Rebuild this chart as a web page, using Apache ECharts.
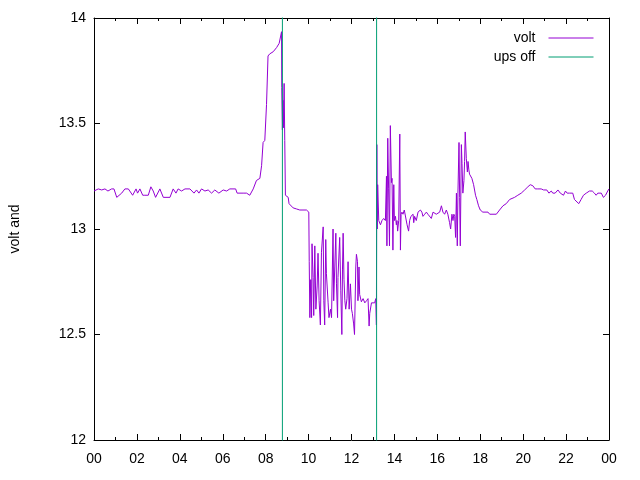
<!DOCTYPE html>
<html lang="en">
<head>
  <meta charset="UTF-8">
  <title>volt</title>
  <script src="https://cdn.jsdelivr.net/npm/echarts@6/dist/echarts.min.js"></script>
  <style type="text/css">
    html, body { margin: 0; padding: 0; background: #fff; }
    #main { width: 640px; height: 480px; }
  </style>
</head>
<body>
  <div id="main"></div>
  <script type="text/javascript">
    // hour of day for each volt sample
    var voltTimes = [
      0.00, 0.05, 0.20, 0.36, 0.51, 0.65, 0.82, 0.93, 1.06, 1.13, 1.29, 1.44, 1.60, 1.80, 1.96, 2.03,
      2.14, 2.27, 2.37, 2.53, 2.65, 2.76, 2.87, 3.07, 3.23, 3.54, 3.69, 3.82, 3.92, 4.08, 4.24, 4.47,
      4.66, 4.78, 4.89, 5.01, 5.17, 5.32, 5.48, 5.63, 5.82, 6.02, 6.18, 6.33, 6.60, 6.67, 6.95, 7.11,
      7.26, 7.42, 7.57, 7.73, 7.81, 7.88, 7.96, 8.04, 8.11, 8.19, 8.35, 8.51, 8.63, 8.69, 8.74, 8.75,
      8.78, 8.81, 8.83, 8.86, 8.89, 8.92, 9.05, 9.09, 9.28, 9.44, 9.59, 9.90, 10.01, 10.03, 10.06, 10.10,
      10.14, 10.16, 10.21, 10.24, 10.29, 10.34, 10.40, 10.44, 10.49, 10.55, 10.60, 10.68, 10.71, 10.75, 10.80, 10.83,
      10.91, 10.95, 11.02, 11.07, 11.14, 11.17, 11.22, 11.27, 11.30, 11.35, 11.37, 11.45, 11.50, 11.55, 11.58, 11.61,
      11.65, 11.69, 11.73, 11.79, 11.84, 11.89, 11.95, 12.00, 12.04, 12.10, 12.14, 12.20, 12.23, 12.28, 12.30, 12.35,
      12.38, 12.46, 12.54, 12.62, 12.70, 12.77, 12.82, 12.85, 12.93, 13.00, 13.08, 13.13, 13.16, 13.18, 13.20, 13.22,
      13.27, 13.35, 13.42, 13.50, 13.58, 13.63, 13.65, 13.69, 13.73, 13.77, 13.81, 13.86, 13.89, 13.93, 13.97, 14.00,
      14.05, 14.09, 14.12, 14.15, 14.20, 14.25, 14.28, 14.31, 14.35, 14.40, 14.46, 14.54, 14.59, 14.66, 14.71, 14.77,
      14.87, 14.90, 14.94, 15.02, 15.10, 15.21, 15.28, 15.33, 15.41, 15.49, 15.56, 15.64, 15.72, 15.80, 15.88, 15.95,
      16.03, 16.11, 16.19, 16.26, 16.34, 16.42, 16.49, 16.57, 16.62, 16.68, 16.73, 16.77, 16.81, 16.85, 16.89, 16.93,
      16.96, 17.01, 17.04, 17.07, 17.12, 17.15, 17.19, 17.24, 17.27, 17.30, 17.35, 17.40, 17.43, 17.47, 17.50, 17.61,
      17.69, 17.78, 17.84, 17.92, 18.00, 18.12, 18.36, 18.44, 18.75, 18.90, 19.06, 19.21, 19.37, 19.60, 19.75, 19.91,
      20.07, 20.22, 20.33, 20.45, 20.56, 20.68, 20.76, 20.84, 20.95, 21.10, 21.20, 21.31, 21.38, 21.49, 21.62, 21.73,
      21.82, 21.88, 21.97, 22.05, 22.16, 22.31, 22.39, 22.47, 22.59, 22.70, 22.81, 22.94, 23.09, 23.22, 23.32, 23.40,
      23.48, 23.64, 23.74, 23.84, 23.94, 24.00
    ];
    var volts = [
      13.18, 13.18, 13.19, 13.185, 13.19, 13.18, 13.19, 13.19, 13.15, 13.15, 13.17, 13.19, 13.19, 13.16, 13.19, 13.17,
      13.19, 13.16, 13.16, 13.16, 13.20, 13.18, 13.15, 13.19, 13.15, 13.15, 13.19, 13.17, 13.19, 13.18, 13.19, 13.19,
      13.17, 13.185, 13.17, 13.19, 13.18, 13.185, 13.17, 13.185, 13.17, 13.185, 13.18, 13.19, 13.19, 13.17, 13.17, 13.17,
      13.16, 13.19, 13.23, 13.24, 13.30, 13.41, 13.42, 13.59, 13.82, 13.83, 13.84, 13.86, 13.88, 13.91, 13.935, 13.67,
      13.47, 13.61, 13.48, 13.69, 13.42, 13.16, 13.15, 13.12, 13.10, 13.095, 13.09, 13.09, 13.08, 12.845, 12.58, 12.76,
      12.58, 12.93, 12.77, 12.59, 12.92, 12.62, 12.73, 12.885, 12.66, 12.545, 12.89, 13.01, 12.66, 12.545, 12.95, 12.79,
      12.65, 12.58, 12.62, 12.58, 13.00, 12.66, 12.82, 12.98, 12.74, 12.58, 12.77, 12.96, 12.71, 12.50, 12.81, 12.98,
      12.76, 12.66, 12.62, 12.67, 12.845, 12.62, 12.74, 12.62, 12.60, 12.55, 12.50, 12.82, 12.88, 12.845, 12.66, 12.82,
      12.69, 12.655, 12.67, 12.65, 12.66, 12.67, 12.54, 12.60, 12.65, 12.655, 12.65, 12.67, 12.545, 13.40, 13.00, 13.21,
      13.04, 13.02, 13.04, 13.05, 13.04, 13.25, 12.92, 13.43, 13.19, 12.92, 13.49, 13.22, 13.24, 12.90, 13.21, 13.04,
      13.06, 13.02, 13.04, 12.99, 13.04, 13.45, 12.90, 13.07, 13.08, 13.07, 13.09, 13.09, 13.02, 12.99, 13.04, 13.06,
      13.07, 13.03, 13.06, 13.04, 13.08, 13.09, 13.08, 13.06, 13.07, 13.08, 13.07, 13.07, 13.05, 13.08, 13.08, 13.07,
      13.07, 13.08, 13.11, 13.08, 13.07, 13.09, 13.07, 13.03, 13.00, 13.07, 13.04, 13.07, 13.06, 12.96, 13.17, 12.92,
      13.17, 13.41, 13.15, 12.92, 13.40, 13.31, 13.17, 13.23, 13.32, 13.46, 13.335, 13.27, 13.32, 13.28, 13.26, 13.24,
      13.21, 13.16, 13.14, 13.11, 13.09, 13.08, 13.08, 13.07, 13.07, 13.09, 13.11, 13.12, 13.14, 13.15, 13.16, 13.17,
      13.185, 13.20, 13.21, 13.205, 13.19, 13.19, 13.185, 13.19, 13.185, 13.185, 13.17, 13.18, 13.17, 13.17, 13.185, 13.17,
      13.17, 13.16, 13.18, 13.17, 13.17, 13.17, 13.14, 13.14, 13.12, 13.14, 13.16, 13.17, 13.18, 13.18, 13.17, 13.16,
      13.17, 13.17, 13.15, 13.16, 13.18, 13.19
    ];
    // ups off flag (off the 12..14 range, so only its edges show)
    var upsTimes = [0, 8.78, 8.78, 13.17, 13.17, 24];
    var upsValues = [0, 0, 100, 100, 0, 0];
    var tickLabels = ['00', '02', '04', '06', '08', '10', '12', '14', '16', '18', '20', '22', '00'];

    var chartDom = document.getElementById('main');
    var myChart = echarts.init(chartDom);
    var font = 'Liberation Sans, Arial, sans-serif';

    var voltData = voltTimes.map(function (t, i) { return [t, volts[i]]; });
    var upsData = upsTimes.map(function (t, i) { return [t, upsValues[i]]; });

    var xBase = {
      type: 'value', min: 0, max: 24, interval: 2,
      axisLine: { show: true, onZero: false, lineStyle: { color: '#000', width: 1 } },
      axisTick: { show: true, inside: true, length: 6, lineStyle: { color: '#000' } },
      minorTick: { show: true, splitNumber: 2, length: 3, lineStyle: { color: '#000' } },
      splitLine: { show: false }
    };
    var yBase = {
      type: 'value', min: 12, max: 14, interval: 0.5,
      axisLine: { show: true, onZero: false, lineStyle: { color: '#000', width: 1 } },
      axisTick: { show: true, inside: true, length: 6, lineStyle: { color: '#000' } },
      splitLine: { show: false }
    };

    function legendFor(name, top) {
      return {
        data: [name], right: 41, top: top, align: 'right',
        itemWidth: 45, itemHeight: 10,
        itemStyle: { opacity: 0 },
        lineStyle: { width: 1 },
        textStyle: { fontFamily: font, fontSize: 14, color: '#000', padding: [0, 8, 0, 0] }
      };
    }

    var option = {
      animation: false,
      backgroundColor: '#fff',
      grid: { left: 94, right: 31, top: 18, bottom: 40 },
      legend: [legendFor('volt', 26), legendFor('ups off', 45)],
      xAxis: [
        Object.assign({}, xBase, {
          position: 'bottom',
          axisLabel: {
            margin: 12, color: '#000', fontFamily: font, fontSize: 14,
            formatter: function (v) { return tickLabels[Math.round(v / 2)]; }
          }
        }),
        Object.assign({}, xBase, { position: 'top', axisLabel: { show: false } })
      ],
      yAxis: [
        Object.assign({}, yBase, {
          position: 'left',
          name: 'volt and',
          nameLocation: 'middle',
          nameGap: 72,
          nameTextStyle: { color: '#000', fontFamily: font, fontSize: 14 },
          axisLabel: {
            margin: 8, color: '#000', fontFamily: font, fontSize: 14,
            formatter: function (v) { return String(v); }
          }
        }),
        Object.assign({}, yBase, { position: 'right', axisLabel: { show: false } })
      ],
      series: [
        {
          name: 'volt', type: 'line', data: voltData,
          symbol: 'none', showSymbol: false, clip: true,
          lineStyle: { color: '#9400d3', width: 1 },
          itemStyle: { color: '#9400d3' }
        },
        {
          name: 'ups off', type: 'line', data: upsData,
          symbol: 'none', showSymbol: false, clip: true,
          lineStyle: { color: '#009e73', width: 1 },
          itemStyle: { color: '#009e73' }
        }
      ]
    };

    myChart.setOption(option);
  </script>
</body>
</html>
